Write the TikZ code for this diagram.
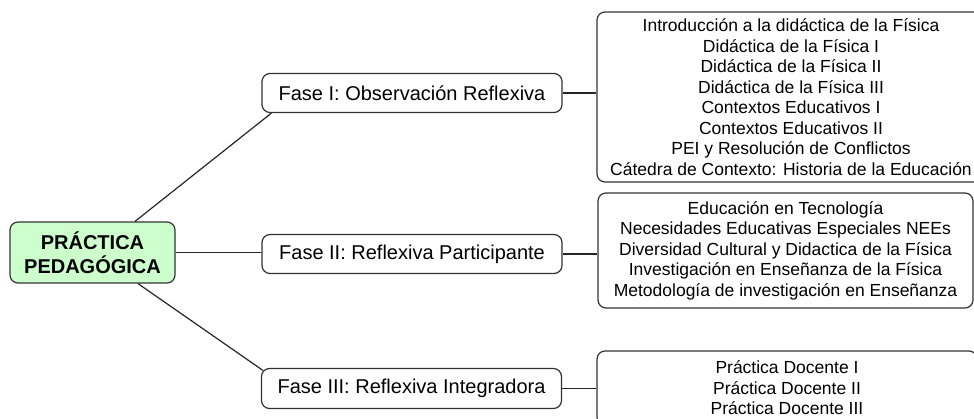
\documentclass[tikz,border=0pt]{standalone}
\usepackage{fontspec}
\setmainfont{Liberation Sans}

\begin{document}
\begin{tikzpicture}[x=1pt, y=-1pt]

% Define styles
\tikzstyle{root} = [rectangle, rounded corners=8pt, draw=black!80, line width=1.2pt, fill=green!20, text centered, align=center, inner sep=0pt, minimum width=165pt, minimum height=61pt, font=\fontsize{20}{24}\selectfont\bfseries]
\tikzstyle{phase} = [rectangle, rounded corners=8pt, draw=black!80, line width=1.2pt, fill=white, text centered, inner sep=0pt, minimum width=300pt, minimum height=39pt, font=\fontsize{20}{24}\selectfont]
\tikzstyle{courses} = [rectangle, rounded corners=8pt, draw=black!80, line width=1.2pt, fill=white, text centered, align=center, inner sep=0pt, font=\fontsize{17.5}{20.5}\selectfont]
\tikzstyle{link} = [draw=black!85, line width=1.2pt]

\clip (0,0) rectangle (974,418);

% Main node
\node [root] (practica) at (92.5,252.5) {PRÁCTICA\\PEDAGÓGICA};

% Phases
\node [phase] (fase1) at (412,93) {Fase I: Observación Reflexiva};
\node [phase] (fase2) at (412,254) {Fase II: Reflexiva Participante};
\node [phase, minimum height=40pt] (fase3) at (411.5,388.5) {Fase III: Reflexiva Integradora};

% Course lists
\node [courses, minimum width=388pt, minimum height=170pt] (temas1) at (791,97) {Introducción a la didáctica de la Física\\Didáctica de la Física I\\Didáctica de la Física II\\Didáctica de la Física III\\Contextos Educativos I\\Contextos Educativos II\\PEI y Resolución de Conflictos\\Cátedra de Contexto: Historia de la Educación};
\node [courses, minimum width=375pt, minimum height=115pt] (temas2) at (785.5,250.5) {Educación en Tecnología\\Necesidades Educativas Especiales NEEs\\Diversidad Cultural y Didactica de la Física\\Investigación en Enseñanza de la Física\\Metodología de investigación en Enseñanza};
\node [courses, minimum width=380pt, minimum height=74pt] (temas3) at (787,388) {Práctica Docente I\\Práctica Docente II\\Práctica Docente III};

% Root to phases
\draw [link] ([xshift=42.5pt]practica.north) -- ([xshift=10pt]fase1.south west);
\draw [link] (practica.east) -- (practica.east -| fase2.west);
\draw [link] ([xshift=45.5pt]practica.south) -- ([xshift=2pt,yshift=-2.5pt]fase3.north west);

% Phases to course lists
\draw [link] (fase1.east) -- (fase1.east -| temas1.west);
\draw [link] (fase2.east) -- (fase2.east -| temas2.west);
\draw [link] (fase3.east) -- (fase3.east -| temas3.west);

\end{tikzpicture}
\end{document}
